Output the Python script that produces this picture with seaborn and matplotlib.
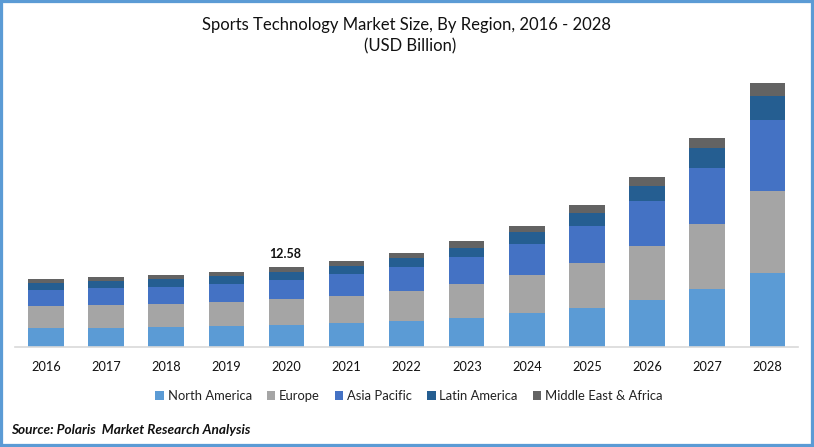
import numpy as np
import pandas as pd
import matplotlib
matplotlib.use("Agg")
import matplotlib.pyplot as plt
from matplotlib.patches import Rectangle
import seaborn as sns

# values, USD billion
years = [2016, 2017, 2018, 2019, 2020, 2021, 2022, 2023, 2024, 2025, 2026, 2027, 2028]
north_america = [3.0, 3.0, 3.15, 3.3, 3.45, 3.8, 4.1, 4.55, 5.35, 6.15, 7.4, 9.1, 11.65]
europe = [3.45, 3.6, 3.6, 3.75, 4.1, 4.25, 4.7, 5.35, 6.0, 7.05, 8.5, 10.25, 12.9]
asia_pacific = [2.5, 2.65, 2.65, 2.85, 2.95, 3.45, 3.8, 4.25, 4.85, 5.8, 7.1, 8.8, 11.15]
latin_america = [1.1, 1.1, 1.25, 1.25, 1.3, 1.25, 1.4, 1.4, 1.9, 2.05, 2.35, 3.15, 3.8]
middle_east_africa = [0.65, 0.65, 0.65, 0.65, 0.78, 0.8, 0.8, 1.1, 0.95, 1.25, 1.4, 1.6, 2.05]

series = {
    "North America": north_america,
    "Europe": europe,
    "Asia Pacific": asia_pacific,
    "Latin America": latin_america,
    "Middle East & Africa": middle_east_africa,
}
colors = ["#5B9BD5", "#A5A5A5", "#4472C4", "#255E91", "#636363"]

sns.set_theme(style="white")
plt.rcParams["font.family"] = ["Lato", "DejaVu Sans"]

df = pd.DataFrame(series, index=years).rename_axis("year").reset_index()

fig = plt.figure(figsize=(8.14, 4.47), dpi=100)
ax = fig.add_axes([15 / 814, 100 / 447, 783 / 814, 277 / 447])

bottom = np.zeros(len(years))
for (name, vals), color in zip(series.items(), colors):
    sns.barplot(data=df, x="year", y=name, color=color, bottom=bottom, width=0.59,
                saturation=1, label=name, ax=ax, linewidth=0)
    bottom += np.array(vals)

ax.set_xlim(-0.515, 12.51)
ax.set_ylim(0, 43.55)
ax.set_xlabel("")
ax.set_ylabel("")
ax.set_yticks([])
ax.tick_params(axis="x", length=0, pad=10, labelsize=9.2, labelcolor="#111111")
sns.despine(ax=ax, left=True)
ax.spines["bottom"].set_color("#D9D9D9")
ax.spines["bottom"].set_linewidth(1.2)

# only 2020 carries a data label
ax.text(3.98, bottom[4] + 1.05, "12.58", ha="center", va="bottom", fontsize=9,
        fontweight="bold", color="#111111")

ax.legend(loc="center", bbox_to_anchor=(409 / 814, 51 / 447), bbox_transform=fig.transFigure,
          ncol=5, frameon=False, fontsize=9.4, handlelength=0.65, handleheight=0.65,
          handletextpad=0.3, columnspacing=1.14, labelcolor="#222222")

fig.text(407 / 814, 422 / 447, "Sports Technology Market Size, By Region, 2016 - 2028",
         ha="center", va="center", fontsize=12, color="#111111")
fig.text(410 / 814, 400.5 / 447, "(USD Billion)", ha="center", va="center", fontsize=12,
         color="#111111")
fig.text(11 / 814, 17.5 / 447, "Source: Polaris  Market Research Analysis", ha="left", va="center",
         fontsize=9.8, fontweight="bold", fontstyle="italic", color="#111111")

# blue frame round the whole picture
fig.add_artist(Rectangle((0, 0), 1, 1, transform=fig.transFigure, fill=False,
                         edgecolor="#5B9BD5", linewidth=4.5))

fig.savefig("out.png", dpi=100)
